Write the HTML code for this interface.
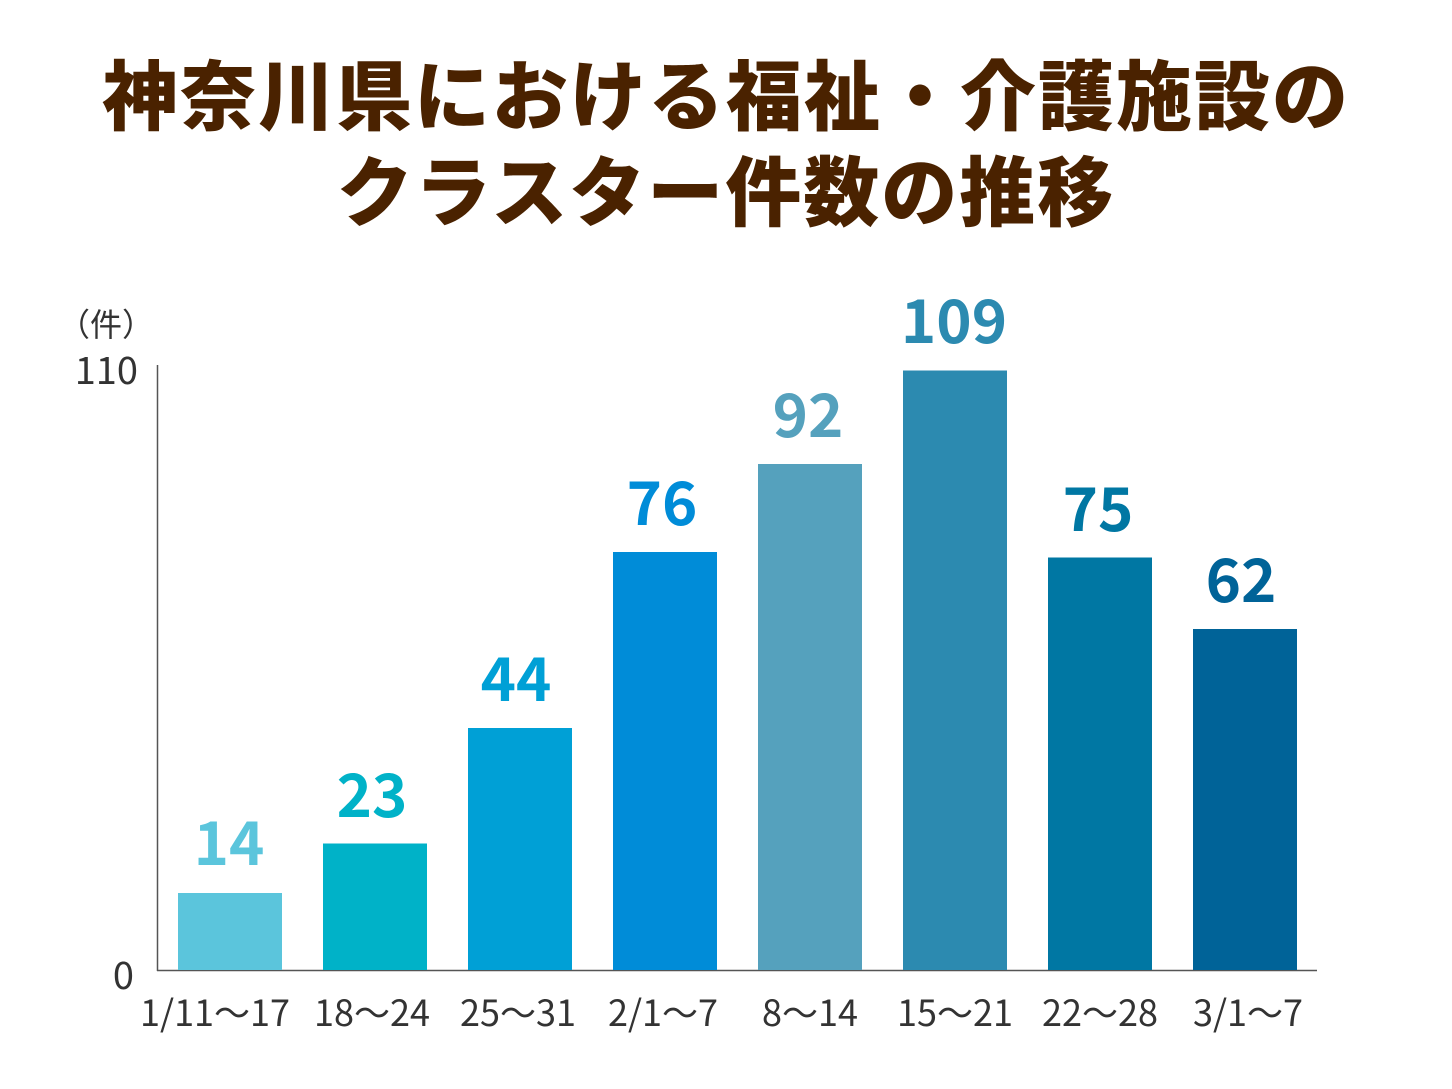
<!DOCTYPE html>
<html><head><meta charset="utf-8"><style>
html,body{margin:0;padding:0;background:#fff;}
svg{display:block;}
text{font-family:"Noto Sans CJK JP",sans-serif;}
</style></head><body>
<svg width="1452" height="1089" viewBox="0 0 1452 1089">
<g font-weight="900" fill="#4a2200" font-size="76" text-anchor="middle" letter-spacing="2">
<text x="726" y="124">神奈川県における福祉・介護施設の</text>
<text x="726" y="220">クラスター件数の推移</text>
</g>
<g fill="#333" font-size="38">
<text x="58" y="336" font-size="32">（件）</text>
<text x="138" y="384" text-anchor="end">110</text>
<text x="134" y="989" text-anchor="end">0</text>
</g>
<line x1="157.5" y1="365" x2="157.5" y2="971" stroke="#555" stroke-width="1.5"/>
<line x1="157" y1="970.5" x2="1317" y2="970.5" stroke="#555" stroke-width="1.5"/>
<g>
<rect x="178" y="893" width="104" height="77" fill="#5bc5dc"/>
<rect x="323" y="843.5" width="104" height="126.5" fill="#00b2c8"/>
<rect x="468" y="728" width="104" height="242" fill="#00a0d6"/>
<rect x="613" y="552" width="104" height="418" fill="#008cd8"/>
<rect x="758" y="464" width="104" height="506" fill="#55a1bd"/>
<rect x="903" y="370.5" width="104" height="599.5" fill="#2c8ab0"/>
<rect x="1048" y="557.5" width="104" height="412.5" fill="#0077a3"/>
<rect x="1193" y="629" width="104" height="341" fill="#006398"/>
</g>
<g font-size="60" font-weight="bold" text-anchor="middle">
<text x="229" y="865" fill="#5bc5dc">14</text>
<text x="372" y="817" fill="#00b2c8">23</text>
<text x="516" y="701" fill="#00a0d6">44</text>
<text x="662" y="525" fill="#008cd8">76</text>
<text x="808" y="437" fill="#55a1bd">92</text>
<text x="954" y="343" fill="#2c8ab0">109</text>
<text x="1098" y="531" fill="#0077a3">75</text>
<text x="1241" y="602" fill="#006398">62</text>
</g>
<g font-size="36" fill="#333" text-anchor="middle">
<text x="215" y="1026">1/11〜17</text>
<text x="372" y="1026">18〜24</text>
<text x="518" y="1026">25〜31</text>
<text x="663" y="1026">2/1〜7</text>
<text x="810" y="1026">8〜14</text>
<text x="955" y="1026">15〜21</text>
<text x="1100" y="1026">22〜28</text>
<text x="1248" y="1026">3/1〜7</text>
</g>
</svg>
</body></html>
